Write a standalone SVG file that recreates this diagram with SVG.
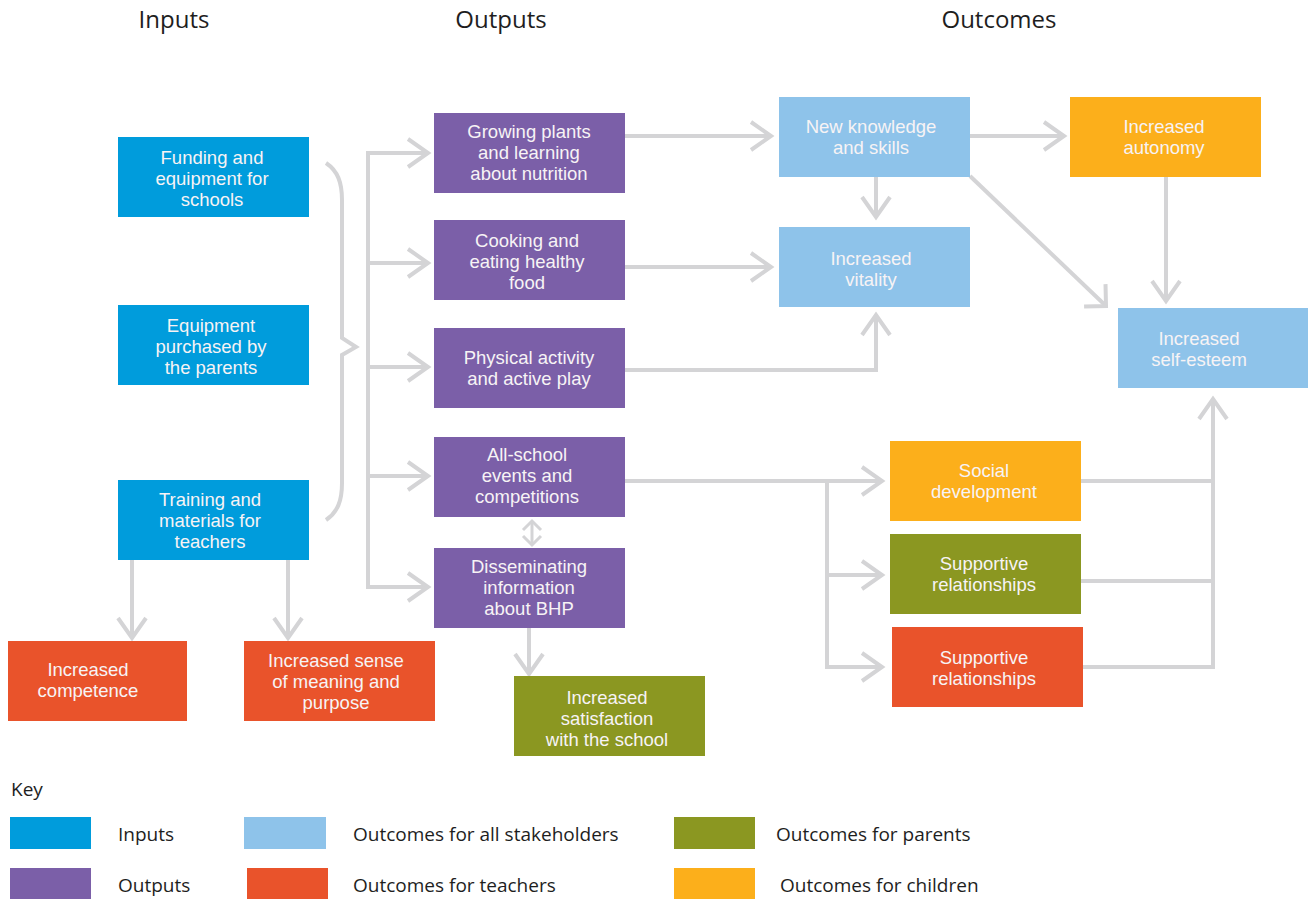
<svg xmlns="http://www.w3.org/2000/svg" width="1308" height="901" viewBox="0 0 1308 901">
  <defs>
    <style>
      .hdr { font-family: "Open Sans", "Noto Sans", sans-serif; font-size: 24px; fill: #1e1e1e; text-anchor: middle; }
      .lbl { font-family: "Liberation Sans", Arial, sans-serif; font-size: 18.5px; fill: #f7f3f5; text-anchor: middle; }
      .key { font-family: "Open Sans", "Noto Sans", sans-serif; font-size: 19px; fill: #1e1e1e; }
      .conn { fill: none; stroke: #d4d4d6; stroke-width: 4; }
      .input { fill: #009cdc; }
      .output { fill: #7b5fa8; }
      .all { fill: #8ec3ea; }
      .teacher { fill: #e9532b; }
      .parent { fill: #8b9721; }
      .child { fill: #fcaf1b; }
    </style>
    <marker id="arrow" markerUnits="userSpaceOnUse" orient="auto" overflow="visible" markerWidth="30" markerHeight="30">
      <path d="M-20,-14 L0,0 L-20,14" fill="none" stroke="#d4d4d6" stroke-width="4"/>
    </marker>
    <marker id="arrow-wide" markerUnits="userSpaceOnUse" orient="auto" overflow="visible" markerWidth="30" markerHeight="30">
      <path d="M-15.5,-15.5 L0,0 L-15.5,15.5" fill="none" stroke="#d4d4d6" stroke-width="4"/>
    </marker>
    <marker id="arrow-small" markerUnits="userSpaceOnUse" orient="auto-start-reverse" overflow="visible" markerWidth="20" markerHeight="20">
      <path d="M-9,-9 L0,0 L-9,9" fill="none" stroke="#d4d4d6" stroke-width="3"/>
    </marker>
  </defs>

  <rect width="1308" height="901" fill="#ffffff"/>

  <!-- column headings -->
  <g id="headings">
    <text class="hdr" x="174" y="28">Inputs</text>
    <text class="hdr" x="501" y="28">Outputs</text>
    <text class="hdr" x="999" y="28">Outcomes</text>
  </g>

  <!-- connectors -->
  <g id="connectors" class="conn">
    <!-- brace grouping the three inputs -->
    <path d="M326,163 C338,171 342,183 342,200 L342,338 L356,347 L342,355 L342,483 C342,500 338,512 326,520"/>
    <!-- trunk feeding the outputs -->
    <path d="M368,589 V153 H428" marker-end="url(#arrow)"/>
    <path d="M366,263 H428" marker-end="url(#arrow)"/>
    <path d="M366,367 H428" marker-end="url(#arrow)"/>
    <path d="M366,476 H428" marker-end="url(#arrow)"/>
    <path d="M366,587 H428" marker-end="url(#arrow)"/>
    <!-- outputs to outcomes -->
    <path d="M625,136 H771" marker-end="url(#arrow)"/>
    <path d="M625,267 H771" marker-end="url(#arrow)"/>
    <path d="M625,370 H876 V315" marker-end="url(#arrow)"/>
    <path d="M876,177 V217" marker-end="url(#arrow)"/>
    <path d="M970,136 H1064" marker-end="url(#arrow)"/>
    <path d="M970,176 L1106,306" marker-end="url(#arrow-wide)"/>
    <path d="M1166,177 V301" marker-end="url(#arrow)"/>
    <path d="M1081,481 H1213"/>
    <path d="M1081,581 H1213"/>
    <path d="M1083,667 H1213 V399" marker-end="url(#arrow)"/>
    <path d="M625,481 H882" marker-end="url(#arrow)"/>
    <path d="M827,481 V667 H882" marker-end="url(#arrow)"/>
    <path d="M827,575 H882" marker-end="url(#arrow)"/>
    <path d="M532,521 V545" marker-start="url(#arrow-small)" marker-end="url(#arrow-small)" stroke-width="3"/>
    <path d="M529,628 V674" marker-end="url(#arrow)"/>
    <path d="M132,560 V638" marker-end="url(#arrow)"/>
    <path d="M288,560 V638" marker-end="url(#arrow)"/>
  </g>

  <!-- inputs -->
  <g id="funding">
    <rect class="input" x="118" y="137" width="191" height="80"/>
    <text class="lbl" x="212" y="164">Funding and</text>
    <text class="lbl" x="212" y="185">equipment for</text>
    <text class="lbl" x="212" y="206">schools</text>
  </g>
  <g id="equipment-parents">
    <rect class="input" x="118" y="305" width="191" height="80"/>
    <text class="lbl" x="211" y="332">Equipment</text>
    <text class="lbl" x="211" y="353">purchased by</text>
    <text class="lbl" x="211" y="374">the parents</text>
  </g>
  <g id="training">
    <rect class="input" x="118" y="480" width="191" height="80"/>
    <text class="lbl" x="210" y="506">Training and</text>
    <text class="lbl" x="210" y="527">materials for</text>
    <text class="lbl" x="210" y="548">teachers</text>
  </g>

  <!-- outputs -->
  <g id="growing">
    <rect class="output" x="434" y="113" width="191" height="80"/>
    <text class="lbl" x="529" y="138">Growing plants</text>
    <text class="lbl" x="529" y="159">and learning</text>
    <text class="lbl" x="529" y="180">about nutrition</text>
  </g>
  <g id="cooking">
    <rect class="output" x="434" y="220" width="191" height="80"/>
    <text class="lbl" x="527" y="247">Cooking and</text>
    <text class="lbl" x="527" y="268">eating healthy</text>
    <text class="lbl" x="527" y="289">food</text>
  </g>
  <g id="physical">
    <rect class="output" x="434" y="328" width="191" height="80"/>
    <text class="lbl" x="529" y="364">Physical activity</text>
    <text class="lbl" x="529" y="385">and active play</text>
  </g>
  <g id="events">
    <rect class="output" x="434" y="437" width="191" height="80"/>
    <text class="lbl" x="527" y="461">All-school</text>
    <text class="lbl" x="527" y="482">events and</text>
    <text class="lbl" x="527" y="503">competitions</text>
  </g>
  <g id="disseminating">
    <rect class="output" x="434" y="548" width="191" height="80"/>
    <text class="lbl" x="529" y="573">Disseminating</text>
    <text class="lbl" x="529" y="594">information</text>
    <text class="lbl" x="529" y="615">about BHP</text>
  </g>

  <!-- outcomes -->
  <g id="competence">
    <rect class="teacher" x="8" y="641" width="179" height="80"/>
    <text class="lbl" x="88" y="676">Increased</text>
    <text class="lbl" x="88" y="697">competence</text>
  </g>
  <g id="meaning">
    <rect class="teacher" x="244" y="641" width="191" height="80"/>
    <text class="lbl" x="336" y="667">Increased sense</text>
    <text class="lbl" x="336" y="688">of meaning and</text>
    <text class="lbl" x="336" y="709">purpose</text>
  </g>
  <g id="satisfaction">
    <rect class="parent" x="514" y="676" width="191" height="80"/>
    <text class="lbl" x="607" y="704">Increased</text>
    <text class="lbl" x="607" y="725">satisfaction</text>
    <text class="lbl" x="607" y="746">with the school</text>
  </g>
  <g id="knowledge">
    <rect class="all" x="779" y="97" width="191" height="80"/>
    <text class="lbl" x="871" y="133">New knowledge</text>
    <text class="lbl" x="871" y="154">and skills</text>
  </g>
  <g id="vitality">
    <rect class="all" x="779" y="227" width="191" height="80"/>
    <text class="lbl" x="871" y="265">Increased</text>
    <text class="lbl" x="871" y="286">vitality</text>
  </g>
  <g id="autonomy">
    <rect class="child" x="1070" y="97" width="191" height="80"/>
    <text class="lbl" x="1164" y="133">Increased</text>
    <text class="lbl" x="1164" y="154">autonomy</text>
  </g>
  <g id="self-esteem">
    <rect class="all" x="1118" y="308" width="190" height="80"/>
    <text class="lbl" x="1199" y="345">Increased</text>
    <text class="lbl" x="1199" y="366">self-esteem</text>
  </g>
  <g id="social">
    <rect class="child" x="890" y="441" width="191" height="80"/>
    <text class="lbl" x="984" y="477">Social</text>
    <text class="lbl" x="984" y="498">development</text>
  </g>
  <g id="supportive-parents">
    <rect class="parent" x="890" y="534" width="191" height="80"/>
    <text class="lbl" x="984" y="570">Supportive</text>
    <text class="lbl" x="984" y="591">relationships</text>
  </g>
  <g id="supportive-teachers">
    <rect class="teacher" x="892" y="627" width="191" height="80"/>
    <text class="lbl" x="984" y="664">Supportive</text>
    <text class="lbl" x="984" y="685">relationships</text>
  </g>

  <!-- legend -->
  <g id="key">
    <text class="key" x="11" y="796">Key</text>
    <rect class="input" x="10" y="817" width="81" height="32"/>
    <text class="key" x="118" y="841">Inputs</text>
    <rect class="all" x="244" y="817" width="82" height="32"/>
    <text class="key" x="353" y="841">Outcomes for all stakeholders</text>
    <rect class="parent" x="674" y="817" width="81" height="32"/>
    <text class="key" x="776" y="841">Outcomes for parents</text>
    <rect class="output" x="10" y="868" width="81" height="31"/>
    <text class="key" x="118" y="892">Outputs</text>
    <rect class="teacher" x="247" y="868" width="81" height="31"/>
    <text class="key" x="353" y="892">Outcomes for teachers</text>
    <rect class="child" x="674" y="868" width="81" height="31"/>
    <text class="key" x="780" y="892">Outcomes for children</text>
  </g>
</svg>
